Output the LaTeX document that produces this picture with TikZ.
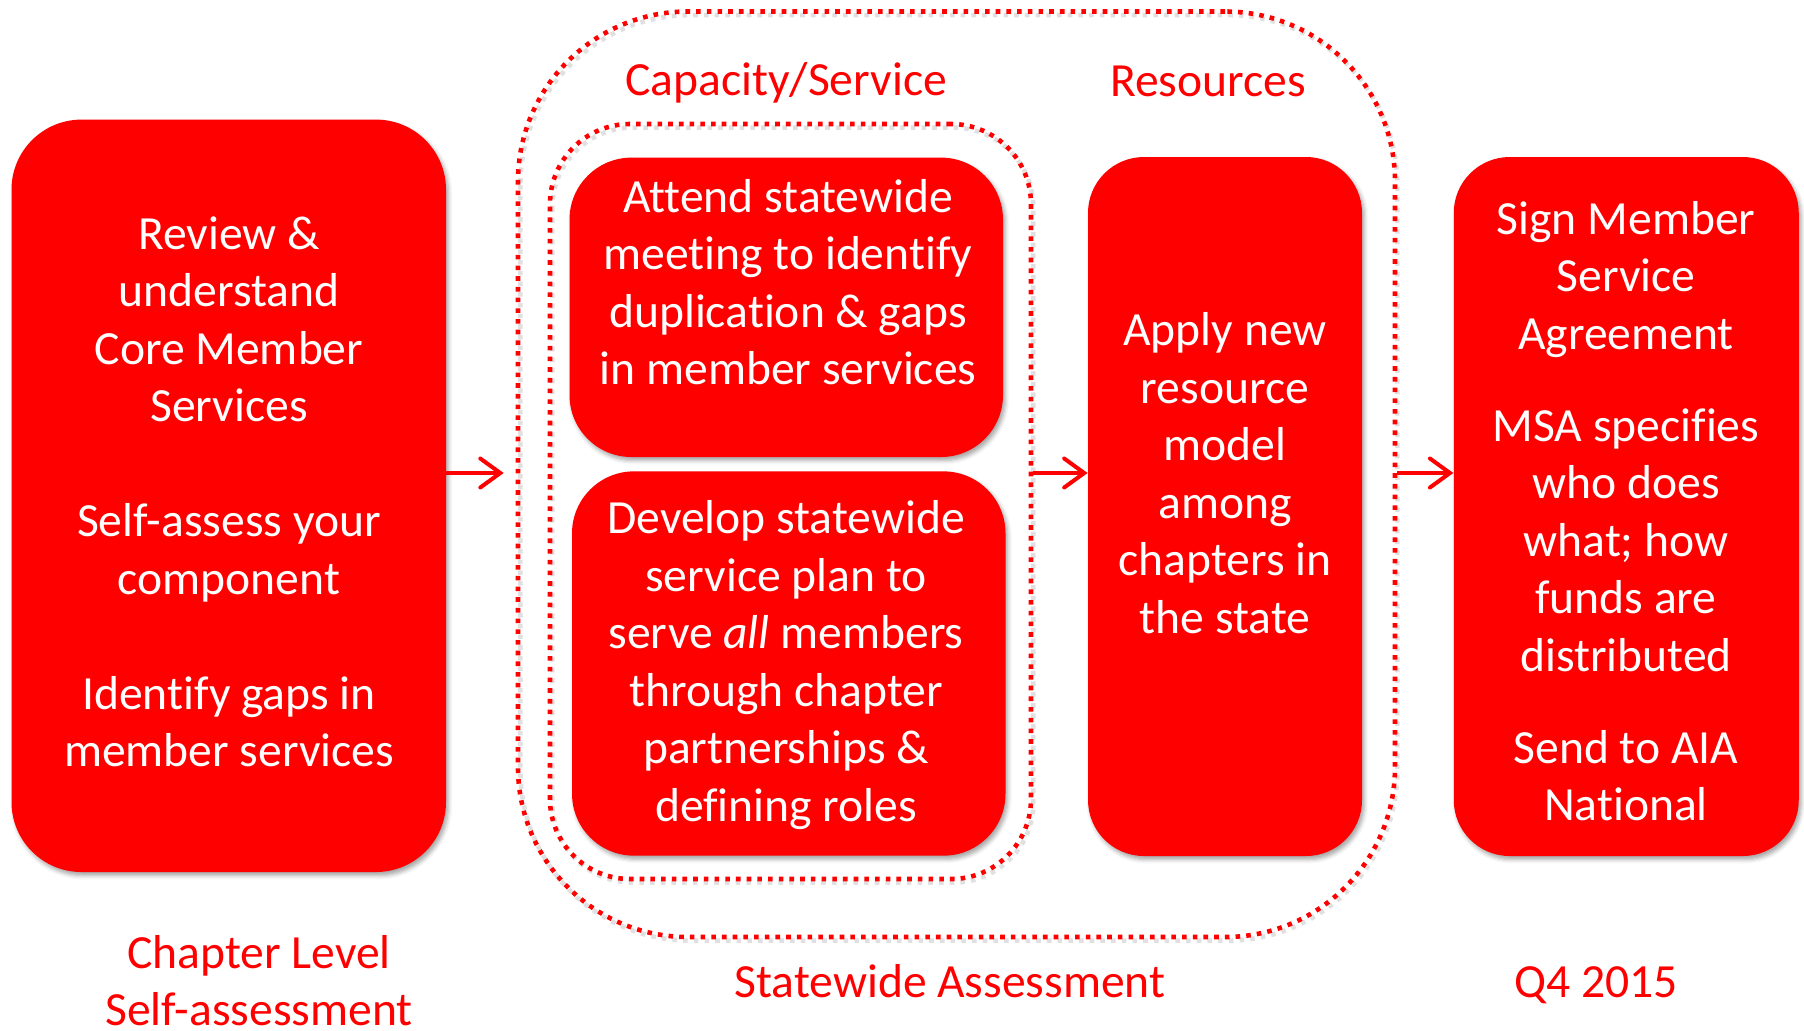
\documentclass[tikz,border=0pt]{standalone}
\usepackage{fontspec}
\setmainfont{Carlito}[Ligatures=NoCommon]
\usetikzlibrary{arrows.meta,shadows.blur}
\definecolor{aiared}{HTML}{FF0000}
\tikzset{
  box/.style={fill=aiared, draw=none, rounded corners=#1,
    blur shadow={shadow xshift=1.2pt, shadow yshift=-1.8pt,
      shadow blur radius=2pt, shadow opacity=35}},
  box/.default=32pt,
  boxtext/.style={text=white, align=center, inner sep=0pt,
    font=\fontsize{23.8}{28.75}\selectfont},
  caption/.style={text=aiared, align=center, inner sep=0pt,
    font=\fontsize{23.8}{28.5}\selectfont},
  dotframe/.style={draw=aiared, line width=2.3pt, rounded corners=#1,
    dash pattern=on 2.3pt off 3.05pt},
  dotshade/.style={draw=black!35, opacity=0.35, line width=2.3pt, rounded corners=#1,
    dash pattern=on 2.3pt off 3.05pt, xshift=1.2pt, yshift=-1.8pt},
  flow/.style={draw=aiared, line width=2pt,
    -{Straight Barb[length=10pt, width=14.5pt, line width=2pt, line cap=round]}},
}
\begin{document}
\begin{tikzpicture}[x=0.5pt, y=-0.5pt]
\useasboundingbox (0,0) rectangle (1804,1030);

% dotted frames (faint shade first, then the frame)
\draw[dotshade=85pt] (518,11.5) rectangle (1395,937);
\draw[dotshade=40pt] (550,124) rectangle (1031,879);
\node[dotframe=85pt, minimum width=438.5pt, minimum height=462.75pt, inner sep=0pt]
  (outer) at (956.5,474.25) {};
\node[dotframe=40pt, minimum width=240.5pt, minimum height=377.5pt, inner sep=0pt]
  (inner) at (790.5,501.5) {};

% red step boxes
\node[box=35pt, minimum width=217.25pt, minimum height=376.2pt, inner sep=0pt]
  (chapter) at (228.75,495.8) {};
\node[box=31pt, minimum width=216.75pt, minimum height=149.7pt, inner sep=0pt]
  (attend) at (786.25,307.3) {};
\node[box=31pt, minimum width=216.75pt, minimum height=192.15pt, inner sep=0pt]
  (develop) at (788.75,663.5) {};
\node[box=28pt, minimum width=137pt, minimum height=349.5pt, inner sep=0pt]
  (apply) at (1225,506.5) {};
\node[box=28pt, minimum width=172.5pt, minimum height=349.5pt, inner sep=0pt]
  (sign) at (1626.25,506.5) {};

% box texts
\node[boxtext] (chaptertext) at (229,492)
  {Review \&\\understand\\Core Member\\Services\\[28.75pt]Self-assess your\\component\\[28.75pt]Identify gaps in\\member services};
\node[boxtext] (attendtext) at (788,282)
  {Attend statewide\\meeting to identify\\duplication \& gaps\\in member services};
\node[boxtext] (developtext) at (786,665)
  {Develop statewide\\service plan to\\serve \textit{all} members\\through chapter\\partnerships \&\\defining roles};
\node[boxtext] (applytext) at (1225,473)
  {Apply new\\resource\\model\\among\\chapters in\\the state};
\node[boxtext] (signtext) at (1626,511)
  {Sign Member\\Service\\Agreement\\[17.25pt]MSA specifies\\who does\\what; how\\funds are\\distributed\\[17.25pt]Send to AIA\\National};

% captions
\node[caption] (capacity) at (786,83) {Capacity/Service};
\node[caption] (resources) at (1208,81) {Resources};
\node[caption, anchor=north] (chapterlevel) at (259,935) {Chapter Level\\Self-assessment};
\node[caption] (statewide) at (950,981) {Statewide Assessment};
\node[caption] (quarter) at (1596,985) {Q4 2015};

% flow arrows
\coordinate (row) at (0,473);
\draw[flow] (chapter.east |- row) -- ([xshift=-6pt]outer.west |- row);
\draw[flow] (inner.east |- row) -- (apply.west |- row);
\draw[flow] (outer.east |- row) -- (sign.west |- row);
\end{tikzpicture}
\end{document}
